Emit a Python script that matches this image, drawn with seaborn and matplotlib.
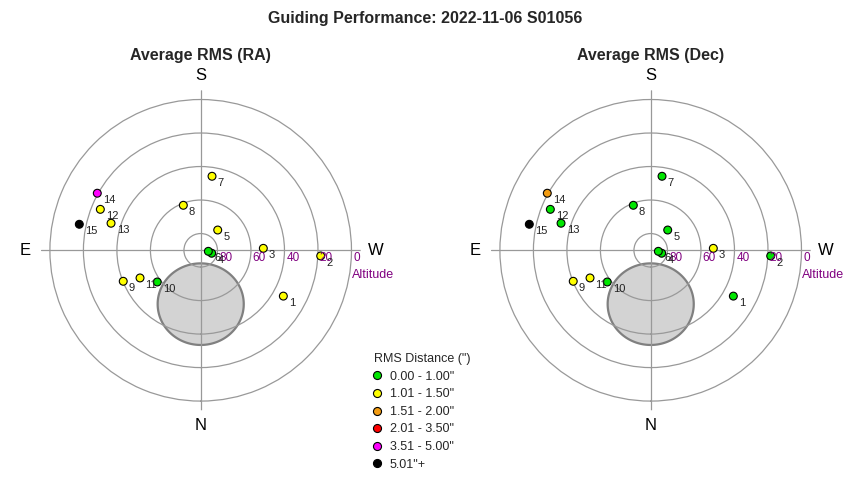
import numpy as np
import pandas as pd
import seaborn as sns
import matplotlib.pyplot as plt
from matplotlib.lines import Line2D

# Guide star positions (altitude / azimuth in degrees)
point_ids = list(range(1, 16))
altitude = [33.6, 18.3, 52.6, 83.2, 74.2, 85.4, 45.3, 61.2, 40.2, 57.9, 50.2, 25.3, 34.1, 19.5, 15.9]
azimuth = [299.0, 272.7, 268.2, 285.0, 220.0, 277.5, 188.7, 158.9, 68.2, 53.9, 65.5, 112.2, 106.8, 118.9, 102.1]

rms_bins = ['0.00 - 1.00"', '1.01 - 1.50"', '1.51 - 2.00"', '2.01 - 3.50"', '3.51 - 5.00"', '5.01"+']
bin_colors = ['#00e600', '#ffff00', '#f39c12', '#ff0000', '#ff00ff', '#000000']

# RMS bin (index into rms_bins) of each point
ra_bin = [1, 1, 1, 0, 1, 0, 1, 1, 1, 0, 1, 1, 1, 4, 5]
dec_bin = [0, 0, 1, 0, 0, 0, 0, 0, 1, 0, 1, 0, 0, 2, 5]

ring_alts = [0, 20, 40, 60, 80]
cardinals = {'N': 0, 'E': 90, 'S': 180, 'W': 270}

# zone around the celestial pole (small circle on the sky)
pole_alt = 57.85
pole_radius = 24.35

R_MAX = 95.5


def pole_zone(alt0, rho, n=200):
    """Return (theta, r) of a small circle of radius rho around (alt0, az=0)."""
    phi = np.radians(alt0)
    rho = np.radians(rho)
    t = np.linspace(0, 2 * np.pi, n)
    p = np.array([np.cos(phi), 0.0, np.sin(phi)])
    u1 = np.array([-np.sin(phi), 0.0, np.cos(phi)])
    u2 = np.array([0.0, 1.0, 0.0])
    pts = (np.cos(rho) * p[:, None]
           + np.sin(rho) * (np.cos(t) * u1[:, None] + np.sin(t) * u2[:, None]))
    alt = np.degrees(np.arcsin(pts[2]))
    az = np.arctan2(pts[1], pts[0])
    return az, 90 - alt


def draw_sky(ax, bins, title):
    ax.set_theta_zero_location('S')
    ax.set_theta_direction(-1)
    ax.set_rlim(0, R_MAX)
    ax.set_rgrids([90 - a for a in ring_alts[::-1]], labels=[''] * len(ring_alts))
    ax.set_thetagrids([0, 90, 180, 270], labels=[''] * 4)
    ax.set_axisbelow(False)
    ax.grid(color='#999999', linewidth=0.9)
    ax.spines['polar'].set_visible(False)
    ax.tick_params(pad=0)

    th, rr = pole_zone(pole_alt, pole_radius)
    ax.fill(th, rr, facecolor='#d3d3d3', edgecolor='#808080', linewidth=1.6, zorder=1)

    df = pd.DataFrame({
        'theta': np.radians(azimuth),
        'r': 90 - np.array(altitude),
        'rms': [rms_bins[b] for b in bins],
    })
    sns.scatterplot(data=df, x='theta', y='r', hue='rms', hue_order=rms_bins,
                    palette=dict(zip(rms_bins, bin_colors)), s=32,
                    edgecolor='black', linewidth=0.8, legend=False, ax=ax, zorder=3)
    ax.set_xlabel('')
    ax.set_ylabel('')

    for pid, t, r in zip(point_ids, df['theta'], df['r']):
        ax.annotate(str(pid), (t, r), xytext=(4, -4.8), textcoords='offset points',
                    ha='left', va='center', fontsize=8, color='#222222', zorder=4)

    for a in ring_alts:
        ax.annotate(str(a), (np.radians(270), 90 - a), xytext=(1.3, -1.2),
                    textcoords='offset points', ha='left', va='top',
                    fontsize=8.5, color='#800080', annotation_clip=False)
    ax.annotate('Altitude', (np.radians(270), 90), xytext=(0, -13.3),
                textcoords='offset points', ha='left', va='top',
                fontsize=9, color='#800080', annotation_clip=False)

    for name, az in cardinals.items():
        ax.text(np.radians(az), 104.5, name, ha='center', va='center',
                fontsize=12, color='black', clip_on=False)

    ax.text(0.5, 1 + 35 / 320, title, transform=ax.transAxes, ha='center',
            va='center', fontsize=11.5, fontweight='bold')


sns.set_style('white')
plt.rcParams['font.family'] = ['Liberation Sans', 'DejaVu Sans']

fig = plt.figure(figsize=(8.5, 4.8), dpi=100)
ax_ra = fig.add_axes([40.7 / 850, 69.7 / 480, 320 / 850, 320 / 480], projection='polar')
ax_dec = fig.add_axes([490.7 / 850, 69.7 / 480, 320 / 850, 320 / 480], projection='polar')

draw_sky(ax_ra, ra_bin, 'Average RMS (RA)')
draw_sky(ax_dec, dec_bin, 'Average RMS (Dec)')

fig.text(0.5, 1 - 19 / 480, 'Guiding Performance: 2022-11-06 S01056',
         ha='center', va='center', fontsize=11.5, fontweight='bold')

handles = [Line2D([], [], marker='o', linestyle='none', markersize=5.8,
                  markerfacecolor=c, markeredgecolor='black', markeredgewidth=0.8)
           for c in bin_colors]
fig.legend(handles, rms_bins, title='RMS Distance (")', loc='upper left',
           bbox_to_anchor=(374 / 850, 1 - 353 / 480), frameon=False,
           fontsize=9, title_fontsize=9, alignment='left',
           handlelength=0.45, handletextpad=0.8, labelspacing=0.45,
           borderpad=0, borderaxespad=0)

fig.savefig('out.png', dpi=100)
